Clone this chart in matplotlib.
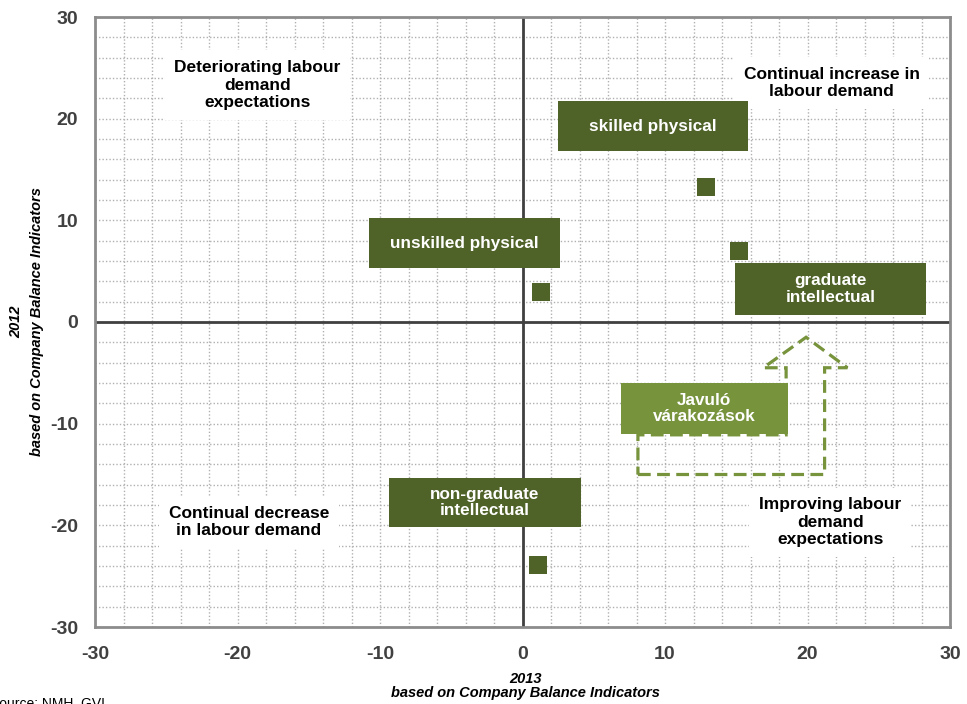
import numpy as np
import matplotlib.pyplot as plt
from matplotlib.patches import Rectangle, Polygon

plt.rcParams['font.family'] = ['Liberation Sans', 'DejaVu Sans']
plt.rcParams['axes.unicode_minus'] = False

# occupational groups: 2013 vs 2012 labour demand expectations
groups = ['skilled physical', 'unskilled physical', 'graduate\nintellectual', 'non-graduate\nintellectual']
x2013 = [12.9, 1.3, 15.2, 1.1]
y2012 = [13.3, 3.0, 7.0, -23.9]
# label boxes (x0, y0, x1, y1)
label_boxes = [(2.5, 16.8, 15.8, 21.7), (-10.8, 5.3, 2.6, 10.2),
               (14.9, 0.7, 28.3, 5.8), (-9.4, -20.2, 4.1, -15.3)]

quad_text = ['Deteriorating labour\ndemand\nexpectations', 'Continual increase in\nlabour demand',
             'Continual decrease\nin labour demand', 'Improving labour\ndemand\nexpectations']
quad_pos = [(-18.6, 23.3), (21.7, 23.5), (-19.2, -19.7), (21.6, -19.7)]

ticks = [-30, -20, -10, 0, 10, 20, 30]

dark = '#4F6228'
light = '#77933C'

fig = plt.figure(figsize=(9.67, 7.04), dpi=100)
ax = fig.add_axes([95 / 967, 1 - 627 / 704, 855 / 967, 610 / 704])
ax.set_xlim(-30, 30)
ax.set_ylim(-30, 30)

ax.set_xticks(ticks)
ax.set_yticks(ticks)
ax.set_xticks(np.arange(-30, 31, 2), minor=True)
ax.set_yticks(np.arange(-30, 31, 2), minor=True)
ax.grid(which='both', color='#b0b0b0', linestyle=(0, (1, 1.5)), linewidth=1)
ax.tick_params(which='both', length=0)
ax.tick_params(axis='x', labelsize=14, labelcolor='#404040', pad=14)
ax.tick_params(axis='y', labelsize=14, labelcolor='#404040', pad=12)
for lab in ax.get_xticklabels() + ax.get_yticklabels():
    lab.set_fontweight('bold')
for s in ax.spines.values():
    s.set_color('#8c8c8c')
    s.set_linewidth(2)

ax.axhline(0, color='#404040', linewidth=2, zorder=2)
ax.axvline(0, color='#404040', linewidth=2, zorder=2)

# quadrant descriptions
for t, (qx, qy) in zip(quad_text, quad_pos):
    ax.text(qx, qy, t, ha='center', va='center', fontsize=12.5, fontweight='bold',
            color='black', linespacing=1.2, zorder=3,
            bbox=dict(facecolor='white', edgecolor='none', pad=7))

# point markers and label boxes
ax.scatter(x2013, y2012, marker='s', s=150, color=dark, zorder=5, linewidths=0)
for g, (x0, y0, x1, y1) in zip(groups, label_boxes):
    ax.add_patch(Rectangle((x0, y0), x1 - x0, y1 - y0, facecolor=dark, edgecolor='none', zorder=4))
    ax.text((x0 + x1) / 2, (y0 + y1) / 2, g, ha='center', va='center', color='white',
            fontsize=12.3, fontweight='bold', linespacing=1.15, zorder=6)

# dashed bent arrow for improving expectations
arrow = [(8.1, -15.0), (21.2, -15.0), (21.2, -4.5), (22.8, -4.5), (19.9, -1.5),
         (16.9, -4.5), (18.5, -4.5), (18.5, -11.1), (8.1, -11.1)]
ax.add_patch(Polygon(arrow, closed=True, fill=False, edgecolor=light, linewidth=2.3,
                     linestyle=(0, (4, 2)), zorder=4))
ax.add_patch(Rectangle((6.9, -11.0), 11.7, 5.0, facecolor=light, edgecolor='none', zorder=5))
ax.text(12.75, -8.5, 'Javuló\nvárakozások', ha='center', va='center', color='white',
        fontsize=12.3, fontweight='bold', linespacing=1.15, zorder=6)

fig.text(525 / 967, 1 - 686 / 704, '2013\nbased on Company Balance Indicators', ha='center', va='center',
         fontsize=10.5, fontweight='bold', fontstyle='italic', linespacing=1.0)
fig.text(16 / 967, 1 - 322 / 704, '2012', ha='center', va='center',
         rotation=90, fontsize=10.5, fontweight='bold', fontstyle='italic')
fig.text(37 / 967, 1 - 322 / 704, 'based on Company Balance Indicators', ha='center', va='center',
         rotation=90, fontsize=10.5, fontweight='bold', fontstyle='italic')
fig.text(-10 / 967, 1 - 704 / 704, 'Source: NMH, GVI', ha='left', va='center', fontsize=10)

fig.savefig('out.png', dpi=100)
